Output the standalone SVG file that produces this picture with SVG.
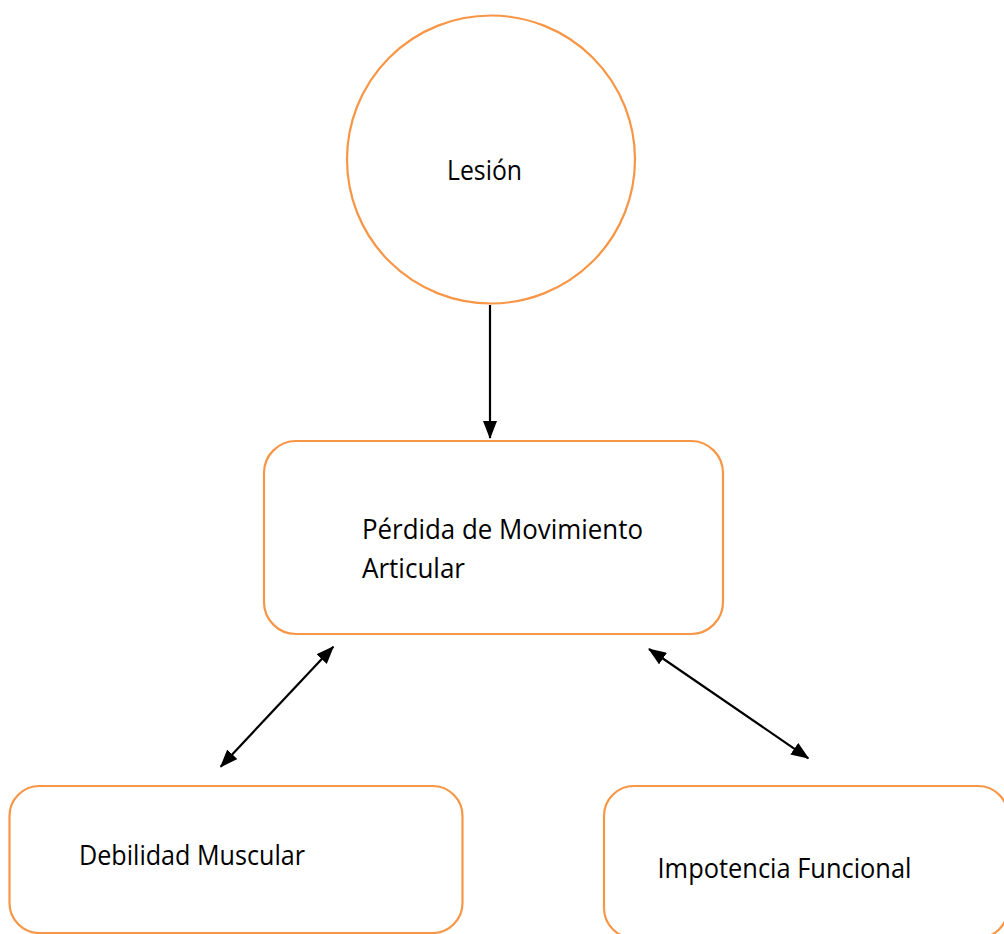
<svg xmlns="http://www.w3.org/2000/svg" width="1004" height="934" viewBox="0 0 1004 934">
<defs>
<style>
.node{fill:#fff;stroke:#F79646;stroke-width:2.2}
.lbl{font-family:"Open Sans","Noto Sans",sans-serif;font-size:27px;fill:#000}
.conn{stroke:#000;stroke-width:2.2;fill:none}
</style>
<marker id="ah" viewBox="0 0 18 14" refX="17" refY="7" markerWidth="18" markerHeight="14" markerUnits="userSpaceOnUse" orient="auto-start-reverse">
<path d="M0,0 L18,7 L0,14 z" fill="#000"/>
</marker>
</defs>
<rect width="1004" height="934" fill="#fff"/>
<g id="lesion">
<circle class="node" cx="491" cy="159.5" r="144"/>
<text class="lbl" x="447" y="180" textLength="75" lengthAdjust="spacingAndGlyphs">Lesión</text>
</g>
<g id="perdida">
<rect class="node" x="264" y="441" width="459" height="193" rx="32"/>
<text class="lbl" x="362" y="539" textLength="281" lengthAdjust="spacingAndGlyphs">Pérdida de Movimiento</text>
<text class="lbl" x="362" y="578" textLength="103" lengthAdjust="spacingAndGlyphs">Articular</text>
</g>
<g id="debilidad">
<rect class="node" x="9.5" y="786" width="453" height="147" rx="30"/>
<text class="lbl" x="79" y="865" textLength="226" lengthAdjust="spacingAndGlyphs">Debilidad Muscular</text>
</g>
<g id="impotencia">
<rect class="node" x="604" y="786" width="404" height="152" rx="30"/>
<text class="lbl" x="657.5" y="878" textLength="254" lengthAdjust="spacingAndGlyphs">Impotencia Funcional</text>
</g>
<g id="connectors">
<line class="conn" x1="490" y1="305" x2="490" y2="438" marker-end="url(#ah)"/>
<line class="conn" x1="220.7" y1="766.7" x2="333.3" y2="646.7" marker-start="url(#ah)" marker-end="url(#ah)"/>
<line class="conn" x1="649" y1="649" x2="808.3" y2="758.3" marker-start="url(#ah)" marker-end="url(#ah)"/>
</g>
</svg>
